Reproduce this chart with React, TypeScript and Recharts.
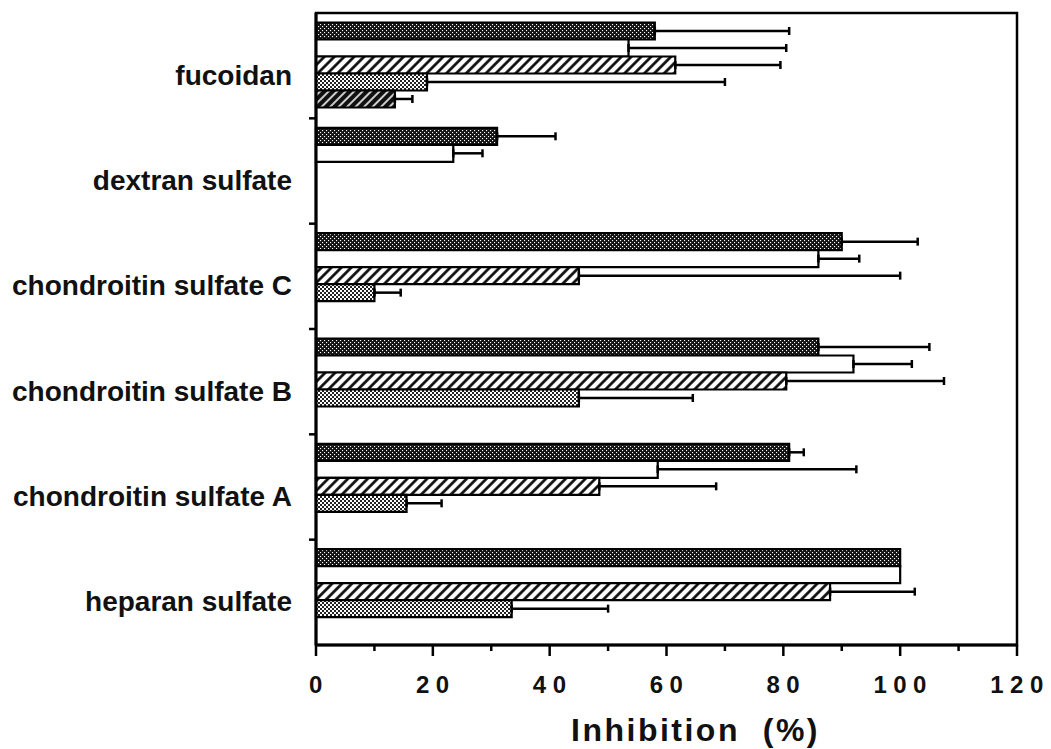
import React from "react";
import {
  BarChart,
  Bar,
  XAxis,
  YAxis,
  ErrorBar,
  ReferenceArea,
} from "recharts";

// categorias (de cima para baixo)
const categories = [
  "fucoidan",
  "dextran sulfate",
  "chondroitin sulfate C",
  "chondroitin sulfate B",
  "chondroitin sulfate A",
  "heparan sulfate",
];

// valores (% de inibicao) e erro (so para a direita)
const darkDotted = [58, 31, 90, 86, 81, 100];
const darkDottedErr = [23, 10, 13, 19, 2.5, null];
const open = [53.5, 23.5, 86, 92, 58.5, 100];
const openErr = [27, 5, 7, 10, 34, null];
const hatched = [61.5, null, 45, 80.5, 48.5, 88];
const hatchedErr = [18, null, 55, 27, 20, 14.5];
const lightDotted = [19, null, 10, 45, 15.5, 33.5];
const lightDottedErr = [51, null, 4.5, 19.5, 6, 16.5];
const darkHatched = [13.5, null, null, null, null, null];
const darkHatchedErr = [3, null, null, null, null, null];

const xTicks = [0, 10, 20, 30, 40, 50, 60, 70, 80, 90, 100, 110, 120];

const oneSided = (e: number | null) => (e == null ? undefined : [0, e]);

const chartData = categories.map((name, i) => ({
  name,
  darkDotted: darkDotted[i],
  darkDottedErr: oneSided(darkDottedErr[i]),
  open: open[i],
  openErr: oneSided(openErr[i]),
  hatched: hatched[i],
  hatchedErr: oneSided(hatchedErr[i]),
  lightDotted: lightDotted[i],
  lightDottedErr: oneSided(lightDottedErr[i]),
  darkHatched: darkHatched[i],
  darkHatchedErr: oneSided(darkHatchedErr[i]),
}));

const FONT = "'Liberation Sans', Arial, Helvetica, sans-serif";

function XTick(props: any) {
  const { x, y, payload } = props;
  const major = payload.value % 20 === 0;
  return (
    <g>
      <line x1={x} y1={y} x2={x} y2={y + (major ? 11 : 6)} stroke="#000" strokeWidth={2.5} />
      {major && (
        <text
          x={x}
          y={y + 48}
          dx={3}
          textAnchor="middle"
          fontFamily={FONT}
          fontWeight="bold"
          fontSize={24}
          letterSpacing={6.5}
          fill="#111"
        >
          {payload.value}
        </text>
      )}
    </g>
  );
}

function YTick(props: any) {
  const { x, y, payload, index } = props;
  const half = payload.offset ?? 0;
  return (
    <g>
      {index > 0 && (
        <line x1={x - 7} y1={y - half} x2={x} y2={y - half} stroke="#000" strokeWidth={2.5} />
      )}
      <text
        x={x - 24}
        y={y + 19}
        textAnchor="end"
        fontFamily={FONT}
        fontWeight="bold"
        fontSize={28}
        fill="#111"
      >
        {payload.value}
      </text>
    </g>
  );
}

function AxisTitle(props: any) {
  const vb = props.viewBox || { x: 0, y: 0, width: 0 };
  return (
    <text
      x={vb.x + vb.width / 2 + 29}
      y={vb.y + 96}
      textAnchor="middle"
      fontFamily={FONT}
      fontWeight="bold"
      fontSize={32}
      letterSpacing={2.5}
      fill="#111"
      style={{ whiteSpace: "pre" }}
    >
      {"Inhibition  (%)"}
    </text>
  );
}

export default function App() {
  return (
    <div style={{ width: 1051, height: 749, position: "relative", background: "#fff" }}>
      <style>{`body{margin:0}`}</style>
      <svg width={0} height={0} style={{ position: "absolute" }}>
        <defs>
          <pattern id="pDark" width="4" height="4" patternUnits="userSpaceOnUse">
            <rect width="4" height="4" fill="#141414" />
            <rect x="0" y="0" width="1.1" height="1.1" fill="#fff" />
            <rect x="2" y="2" width="1.1" height="1.1" fill="#fff" />
          </pattern>
          <pattern id="pLight" width="4" height="4" patternUnits="userSpaceOnUse">
            <rect width="4" height="4" fill="#fff" />
            <rect x="0" y="0" width="2" height="2" fill="#222" />
            <rect x="2" y="2" width="2" height="2" fill="#222" />
          </pattern>
          <pattern id="pHatch" width="7" height="7" patternUnits="userSpaceOnUse" patternTransform="rotate(45)">
            <rect width="7" height="7" fill="#fff" />
            <line x1="3.5" y1="0" x2="3.5" y2="7" stroke="#000" strokeWidth="2.6" />
          </pattern>
          <pattern id="pDarkHatch" width="6" height="6" patternUnits="userSpaceOnUse" patternTransform="rotate(45)">
            <rect width="6" height="6" fill="#111" />
            <line x1="3" y1="0" x2="3" y2="6" stroke="#fff" strokeWidth="1.6" />
          </pattern>
        </defs>
      </svg>
      <BarChart
        width={1051}
        height={749}
        data={chartData}
        layout="vertical"
        margin={{ top: 13, right: 34, bottom: 0, left: 0 }}
        barCategoryGap="9%"
        barGap={0}
      >
        <XAxis
          type="number"
          domain={[0, 120]}
          ticks={xTicks}
          interval={0}
          height={104}
          tickSize={0}
          tickMargin={0}
          tickLine={false}
          axisLine={{ stroke: "#000", strokeWidth: 3 }}
          tick={<XTick />}
          label={<AxisTitle />}
        />
        <YAxis
          type="category"
          dataKey="name"
          width={316}
          interval={0}
          tickSize={0}
          tickMargin={0}
          tickLine={false}
          axisLine={{ stroke: "#000", strokeWidth: 3 }}
          tick={<YTick />}
        />
        <ReferenceArea x1={0} x2={120} fill="none" stroke="#000" strokeWidth={2.5} fillOpacity={0} />
        <Bar dataKey="darkDotted" fill="url(#pDark)" stroke="#000" strokeWidth={2.2} isAnimationActive={false}>
          <ErrorBar dataKey="darkDottedErr" direction="x" width={4} stroke="#000" strokeWidth={2.5} isAnimationActive={false} />
        </Bar>
        <Bar dataKey="open" fill="#fff" stroke="#000" strokeWidth={2.2} isAnimationActive={false}>
          <ErrorBar dataKey="openErr" direction="x" width={4} stroke="#000" strokeWidth={2.5} isAnimationActive={false} />
        </Bar>
        <Bar dataKey="hatched" fill="url(#pHatch)" stroke="#000" strokeWidth={2.2} isAnimationActive={false}>
          <ErrorBar dataKey="hatchedErr" direction="x" width={4} stroke="#000" strokeWidth={2.5} isAnimationActive={false} />
        </Bar>
        <Bar dataKey="lightDotted" fill="url(#pLight)" stroke="#000" strokeWidth={2.2} isAnimationActive={false}>
          <ErrorBar dataKey="lightDottedErr" direction="x" width={4} stroke="#000" strokeWidth={2.5} isAnimationActive={false} />
        </Bar>
        <Bar dataKey="darkHatched" fill="url(#pDarkHatch)" stroke="#000" strokeWidth={2.2} isAnimationActive={false}>
          <ErrorBar dataKey="darkHatchedErr" direction="x" width={4} stroke="#000" strokeWidth={2.5} isAnimationActive={false} />
        </Bar>
      </BarChart>
    </div>
  );
}
